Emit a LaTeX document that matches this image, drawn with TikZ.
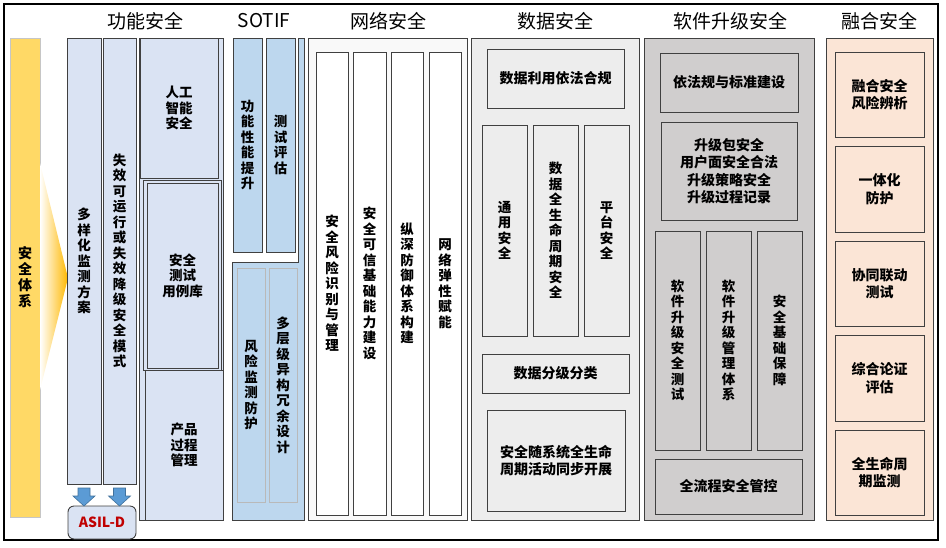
\documentclass[tikz,border=0pt]{standalone}
\usepackage{fontspec}
\setmainfont{Noto Sans CJK SC}
\usepackage{tikz}

\definecolor{linegray}{HTML}{404040}
\definecolor{fsblue}{HTML}{DAE3F3}
\definecolor{sotifblue}{HTML}{BDD7EE}
\definecolor{netfill}{HTML}{F9F9F9}
\definecolor{datafill}{HTML}{EDEDED}
\definecolor{swfill}{HTML}{D0CECE}
\definecolor{fusefill}{HTML}{FBE5D6}
\definecolor{sysyellow}{HTML}{FFD966}
\definecolor{apexorange}{HTML}{FFB800}
\definecolor{asilred}{HTML}{C00000}
\definecolor{arrowblue}{HTML}{5B9BD5}
\definecolor{arrowedge}{HTML}{41719C}

\tikzset{
  frame/.style={draw=linegray, line width=0.9pt, inner sep=0pt, outer sep=0pt, anchor=north west},
  cell/.style={frame, align=center, font=\bfseries\fontsize{13.5}{15.5}\selectfont},
  hcell/.style={cell, font=\bfseries\fontsize{14}{17.5}\selectfont},
  softcell/.style={cell, draw=gray!55},
  heading/.style={inner sep=0pt, font=\fontsize{19}{22}\selectfont},
  downarrow/.style={fill=arrowblue, draw=arrowedge, line width=0.6pt},
}

\begin{document}
\begin{tikzpicture}[x=1pt, y=-1pt]
    \useasboundingbox (0,0) rectangle (946,547);

    % Outer border
    \draw[line width=1.1pt] (4,4) rectangle (938,540);

    % Column headings
    \node[heading] (hfs)   at (145,21) {功能安全};
    \node[heading] (hso)   at (264,21) {SOTIF};
    \node[heading] (hnet)  at (388,21) {网络安全};
    \node[heading] (hdata) at (555,21) {数据安全};
    \node[heading] (hsw)   at (730,21) {软件升级安全};
    \node[heading] (hfuse) at (879,21) {融合安全};

    % Safety system bar
    \node[cell, draw=gray!45, fill=sysyellow, font=\bfseries\fontsize{14}{16}\selectfont,
          minimum width=30pt, minimum height=479pt] (sys) at (10,38) {安\\全\\体\\系};
    \shade[left color=white, right color=apexorange] (40,163) -- (68,278) -- (40,390) -- cycle;

    % Functional safety
    \node[cell, fill=fsblue, minimum width=34pt, minimum height=446pt] (fs1) at (67,38)
        {多\\样\\化\\监\\测\\方\\案};
    \node[cell, fill=fsblue, minimum width=33pt, minimum height=446pt] (fs2) at (103,38)
        {失\\效\\可\\运\\行\\或\\失\\效\\降\\级\\安\\全\\模\\式};
    \node[frame, fill=fsblue, minimum width=84pt, minimum height=482pt] (fsr) at (139,38) {};
    \node[cell, fill=fsblue, minimum width=78pt, minimum height=140pt] (fsai) at (140,38)
        {人工\\智能\\安全};
    \node[frame, fill=fsblue, minimum width=78pt, minimum height=190pt] (fstc) at (143,180) {};
    \node[cell, fill=fsblue, minimum width=71pt, minimum height=185pt] (fstest) at (147,183)
        {安全\\测试\\用例库};
    \node[cell, fill=fsblue, minimum width=78pt, minimum height=150pt] (fsprod) at (145,370)
        {产品\\过程\\管理};

    % ASIL-D
    \node[cell, fill=fsblue, rounded corners=6pt, text=asilred, font=\bfseries\fontsize{14}{16}\selectfont,
          minimum width=68pt, minimum height=33pt] (asil) at (68,506) {ASIL-D};
    \foreach \n in {fs1,fs2}
        \draw[downarrow] ([xshift=-6pt,yshift=-4pt]\n.south) -- ++(12,0) -- ++(0,8) -- ++(5,0)
            -- ++(-11,10) -- ++(-11,-10) -- ++(5,0) -- cycle;

    % SOTIF
    \draw[frame, fill=sotifblue] (232,262) -- (298,262) -- (298,38) -- (304,38)
        -- (304,520) -- (232,520) -- cycle;
    \node[cell, fill=sotifblue, minimum width=29pt, minimum height=214pt] (so1) at (233,38)
        {功\\能\\性\\能\\提\\升};
    \node[cell, fill=sotifblue, minimum width=29pt, minimum height=214pt] (so2) at (266,38)
        {测\\试\\评\\估};
    \node[softcell, fill=sotifblue, minimum width=28pt, minimum height=234pt] (so3) at (237,268)
        {风\\险\\监\\测\\防\\护};
    \node[softcell, fill=sotifblue, minimum width=28pt, minimum height=234pt] (so4) at (269,268)
        {多\\层\\级\\异\\构\\冗\\余\\设\\计};

    % Network security
    \node[frame, fill=netfill, minimum width=159pt, minimum height=482pt] (net) at (308,38) {};
    \node[cell, fill=white, minimum width=32pt, minimum height=463pt] (net1) at (316,52)
        {安\\全\\风\\险\\识\\别\\与\\管\\理};
    \node[cell, fill=white, minimum width=33pt, minimum height=463pt] (net2) at (353,52)
        {安\\全\\可\\信\\基\\础\\能\\力\\建\\设};
    \node[cell, fill=white, minimum width=32pt, minimum height=463pt] (net3) at (391,52)
        {纵\\深\\防\\御\\体\\系\\构\\建};
    \node[cell, fill=white, minimum width=32pt, minimum height=463pt] (net4) at (429,52)
        {网\\络\\弹\\性\\赋\\能};

    % Data security
    \node[frame, fill=datafill, minimum width=168pt, minimum height=482pt] (data) at (471,38) {};
    \node[hcell, fill=datafill, minimum width=137pt, minimum height=59pt] (data1) at (487,49)
        {数据利用依法合规};
    \node[cell, fill=datafill, minimum width=45pt, minimum height=211pt] (data2) at (482,125)
        {通\\用\\安\\全};
    \node[cell, fill=datafill, minimum width=45pt, minimum height=211pt] (data3) at (533,125)
        {数\\据\\全\\生\\命\\周\\期\\安\\全};
    \node[cell, fill=datafill, minimum width=45pt, minimum height=211pt] (data4) at (584,125)
        {平\\台\\安\\全};
    \node[hcell, fill=datafill, minimum width=147pt, minimum height=39pt] (data5) at (482,354)
        {数据分级分类};
    \node[hcell, fill=datafill, minimum width=138pt, minimum height=101pt] (data6) at (487,410)
        {安全随系统全生命\\周期活动同步开展};

    % Software upgrade security
    \node[frame, fill=swfill, minimum width=170pt, minimum height=482pt] (sw) at (644,38) {};
    \node[hcell, fill=swfill, minimum width=138pt, minimum height=59pt] (sw1) at (660,53)
        {依法规与标准建设};
    \node[hcell, fill=swfill, minimum width=136pt, minimum height=98pt] (sw2) at (661,122)
        {升级包安全\\用户面安全合法\\升级策略安全\\升级过程记录};
    \node[cell, fill=swfill, minimum width=45pt, minimum height=219pt] (sw3) at (655,231)
        {软\\件\\升\\级\\安\\全\\测\\试};
    \node[cell, fill=swfill, minimum width=45pt, minimum height=219pt] (sw4) at (706,231)
        {软\\件\\升\\级\\管\\理\\体\\系};
    \node[cell, fill=swfill, minimum width=45pt, minimum height=219pt] (sw5) at (757,231)
        {安\\全\\基\\础\\保\\障};
    \node[hcell, fill=swfill, minimum width=147pt, minimum height=55pt] (sw6) at (655,459)
        {全流程安全管控};

    % Fusion security
    \node[frame, fill=fusefill, minimum width=107pt, minimum height=482pt] (fuse) at (826,38) {};
    \node[hcell, fill=fusefill, minimum width=89pt, minimum height=85pt] (fuse1) at (835,52)
        {融合安全\\风险辨析};
    \node[hcell, fill=fusefill, minimum width=89pt, minimum height=86pt] (fuse2) at (835,146)
        {一体化\\防护};
    \node[hcell, fill=fusefill, minimum width=89pt, minimum height=85pt] (fuse3) at (835,241)
        {协同联动\\测试};
    \node[hcell, fill=fusefill, minimum width=89pt, minimum height=86pt] (fuse4) at (835,335)
        {综合论证\\评估};
    \node[hcell, fill=fusefill, minimum width=89pt, minimum height=85pt] (fuse5) at (835,430)
        {全生命周\\期监测};
\end{tikzpicture}
\end{document}
